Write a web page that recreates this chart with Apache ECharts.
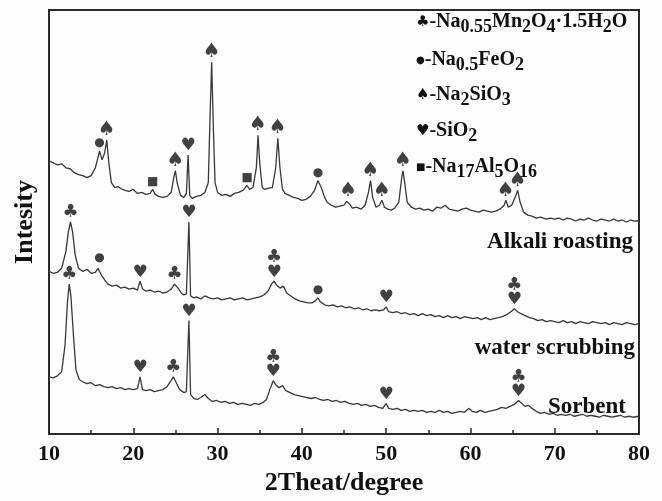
<!DOCTYPE html>
<html>
<head>
<meta charset="utf-8">
<script src="https://cdn.jsdelivr.net/npm/echarts@6/dist/echarts.min.js"></script>
<style>
html,body{margin:0;padding:0;background:#fdfdfd;}
#chart{width:662px;height:501px;}
</style>
</head>
<body>
<div id="chart"></div>
<script>
// 2θ (degree), intensity (a.u., stacked traces)
const alkaliRoasting = [[10.0,277],[10.5,275],[11.0,273],[11.5,274],[12.0,270],[12.5,269],[13.0,265],[13.5,263],[14.0,262],[14.5,260],[15.0,262],[15.5,270],[15.8,280],[16.0,287],[16.3,278],[16.6,285],[16.85,298],[17.1,275],[17.4,255],[17.8,250],[18.2,251],[18.5,249],[19.0,247],[19.5,246],[20.0,248],[20.5,244],[21.0,245],[21.5,243],[22.0,244],[22.3,248],[22.6,243],[23.0,241],[23.5,240],[24.0,241],[24.5,245],[24.8,260],[25.0,267],[25.2,255],[25.6,242],[26.0,240],[26.3,244],[26.5,283],[26.7,242],[27.0,239],[27.5,241],[28.0,242],[28.5,245],[28.9,255],[29.1,320],[29.3,377],[29.5,310],[29.7,255],[30.0,245],[30.5,242],[31.0,243],[31.5,241],[32.0,244],[32.5,245],[33.0,247],[33.5,252],[33.8,248],[34.2,250],[34.6,270],[34.8,303],[35.0,275],[35.3,250],[35.6,248],[36.0,249],[36.5,250],[36.9,270],[37.15,300],[37.4,270],[37.7,248],[38.0,244],[38.5,242],[39.0,240],[39.5,239],[40.0,237],[40.5,238],[41.0,241],[41.5,247],[41.9,257],[42.3,250],[42.7,240],[43.0,235],[43.5,232],[44.0,230],[44.5,231],[45.0,232],[45.3,236],[45.5,237],[45.7,233],[46.0,229],[46.5,230],[47.0,228],[47.5,232],[47.9,245],[48.15,257],[48.4,240],[48.8,230],[49.2,232],[49.5,237],[49.8,230],[50.2,228],[50.6,227],[51.0,229],[51.5,235],[51.85,260],[52.0,267],[52.2,255],[52.5,235],[53.0,230],[53.5,228],[54.0,229],[54.5,227],[55.0,228],[55.5,226],[56.0,230],[56.5,229],[57.0,232],[57.5,228],[58.0,227],[58.5,226],[59.0,228],[59.5,229],[60.0,227],[60.5,226],[61.0,225],[61.5,227],[62.0,226],[62.5,225],[63.0,226],[63.5,228],[64.0,232],[64.2,237],[64.5,230],[64.9,232],[65.3,240],[65.6,247],[65.9,235],[66.3,225],[66.8,222],[67.3,221],[67.8,219],[68.3,220],[69.0,218],[69.5,219],[70.0,218],[70.5,219],[71.0,217],[71.5,219],[72.0,218],[72.5,216],[73.0,218],[73.5,217],[74.0,219],[74.5,217],[75.0,216],[75.5,218],[76.0,217],[76.5,216],[77.0,218],[77.5,216],[78.0,217],[78.5,215],[79.0,217],[79.5,216],[80.0,216]];

const waterScrubbing = [[10.0,165],[10.5,163],[11.0,164],[11.5,168],[12.0,185],[12.3,205],[12.55,215],[12.8,205],[13.1,182],[13.5,168],[14.0,165],[14.5,167],[15.0,163],[15.5,164],[15.8,168],[16.0,170],[16.3,160],[16.7,155],[17.0,152],[17.5,150],[18.0,151],[18.5,148],[19.0,149],[19.5,147],[20.0,148],[20.5,146],[20.8,155],[21.1,147],[21.5,145],[22.0,146],[22.5,144],[23.0,145],[23.5,143],[24.0,144],[24.5,147],[24.9,152],[25.3,148],[25.7,143],[26.0,141],[26.3,142],[26.6,215],[26.8,140],[27.2,138],[27.5,139],[28.0,137],[28.5,140],[29.0,138],[29.5,137],[30.0,138],[30.5,136],[31.0,137],[31.5,138],[32.0,136],[32.5,137],[33.0,138],[33.5,136],[34.0,137],[34.5,138],[35.0,139],[35.5,141],[36.0,145],[36.4,152],[36.7,155],[37.0,151],[37.4,148],[37.8,150],[38.2,143],[38.7,140],[39.2,137],[39.7,135],[40.2,134],[40.7,133],[41.2,133],[41.6,135],[41.9,138],[42.2,134],[42.7,131],[43.2,130],[43.7,131],[44.2,129],[44.7,130],[45.2,128],[45.7,129],[46.2,127],[46.7,128],[47.2,126],[47.7,127],[48.2,125],[48.7,126],[49.2,125],[49.7,126],[50.0,129],[50.3,124],[50.8,123],[51.3,124],[51.8,122],[52.3,123],[52.8,121],[53.3,122],[53.8,120],[54.3,122],[54.8,120],[55.3,121],[55.8,119],[56.3,120],[56.8,118],[57.3,120],[57.8,118],[58.3,119],[58.8,117],[59.3,119],[59.8,118],[60.3,117],[60.8,118],[61.3,116],[61.8,118],[62.3,116],[62.8,117],[63.3,118],[63.8,119],[64.3,121],[64.8,124],[65.2,127],[65.6,124],[66.0,122],[66.5,120],[67.0,118],[67.5,117],[68.0,115],[68.5,116],[69.0,114],[69.5,115],[70.0,114],[70.5,113],[71.0,115],[71.5,113],[72.0,114],[72.5,112],[73.0,114],[73.5,113],[74.0,112],[74.5,114],[75.0,113],[75.5,112],[76.0,113],[76.5,111],[77.0,113],[77.5,112],[78.0,111],[78.5,113],[79.0,112],[79.5,111],[80.0,112]];

const sorbent = [[10.0,58],[10.5,57],[11.0,59],[11.5,63],[11.9,90],[12.2,135],[12.4,152],[12.6,140],[12.9,100],[13.2,65],[13.6,55],[14.0,53],[14.5,51],[15.0,52],[15.5,49],[16.0,50],[16.5,48],[17.0,47],[17.5,48],[18.0,46],[18.5,47],[19.0,45],[19.5,46],[20.0,45],[20.5,46],[20.8,58],[21.1,45],[21.5,44],[22.0,45],[22.5,43],[23.0,44],[23.5,45],[24.0,48],[24.4,53],[24.75,58],[25.1,52],[25.5,45],[26.0,42],[26.3,43],[26.6,115],[26.8,40],[27.2,36],[27.6,35],[28.0,37],[28.5,40],[28.9,36],[29.4,33],[29.9,34],[30.4,32],[30.9,33],[31.4,31],[31.9,32],[32.4,30],[32.9,31],[33.4,30],[33.9,29],[34.4,31],[34.9,30],[35.4,32],[35.8,35],[36.2,45],[36.6,54],[36.9,50],[37.3,47],[37.7,49],[38.1,44],[38.6,42],[39.1,40],[39.6,39],[40.1,38],[40.6,37],[41.1,36],[41.6,37],[42.1,35],[42.6,34],[43.1,35],[43.6,33],[44.1,34],[44.6,32],[45.1,33],[45.6,31],[46.1,30],[46.6,31],[47.1,29],[47.6,30],[48.1,28],[48.6,29],[49.1,27],[49.6,26],[50.0,31],[50.3,26],[50.8,25],[51.3,26],[51.8,24],[52.3,25],[52.8,23],[53.3,24],[53.8,23],[54.3,24],[54.8,22],[55.3,23],[55.8,22],[56.3,24],[56.8,22],[57.3,23],[57.8,21],[58.3,22],[58.8,23],[59.3,22],[59.8,26],[60.2,23],[60.7,22],[61.2,24],[61.7,22],[62.2,23],[62.7,24],[63.2,25],[63.7,27],[64.2,26],[64.7,28],[65.2,30],[65.7,34],[66.1,31],[66.5,28],[66.9,29],[67.3,26],[67.8,23],[68.3,21],[68.8,22],[69.3,20],[69.8,21],[70.3,19],[70.8,20],[71.3,19],[71.8,20],[72.3,18],[72.8,19],[73.3,20],[73.8,18],[74.3,19],[74.8,18],[75.3,17],[75.8,19],[76.3,18],[76.8,17],[77.3,18],[77.8,19],[78.3,17],[78.8,18],[79.3,17],[80.0,18]];

// phase marks: [2θ, peak intensity, phase code(s)]
// c = Na0.55Mn2O4·1.5H2O, d = Na0.5FeO2, s = Na2SiO3, h = SiO2, q = Na17Al5O16
const alkaliMarks = [[16.0,287,'d'],[16.85,298,'s'],[22.3,248,'q'],[25.0,267,'s'],[26.5,283,'h'],[29.3,377,'s'],[33.5,252,'q'],[34.8,303,'s'],[37.15,300,'s'],[41.9,257,'d'],[45.5,237,'s'],[48.15,257,'s'],[49.5,237,'s'],[52.0,267,'s'],[64.2,237,'s'],[65.6,247,'s']];
const waterMarks = [[12.55,215,'c'],[16.0,170,'d'],[20.8,155,'h'],[24.9,152,'c'],[26.6,215,'h'],[36.7,155,'ch'],[41.9,138,'d'],[50.0,129,'h'],[65.2,127,'ch']];
const sorbentMarks = [[12.4,152,'c'],[20.8,58,'h'],[24.75,58,'c'],[26.6,115,'h'],[36.6,54,'ch'],[50.0,31,'h'],[65.7,34,'ch']];

const xTicks = [10,20,30,40,50,60,70,80];
const traceNames = ['Alkali roasting','water scrubbing','Sorbent'];

const glyph = {c:'{c|♣}', d:'{d|●}', s:'{s|♠}', h:'{h|♥}', q:'{q|■}'};
const glyphRich = {
  c:{fontFamily:'DejaVu Sans',fontSize:18,color:'#111',lineHeight:15},
  d:{fontFamily:'DejaVu Sans',fontSize:12,color:'#111',lineHeight:12},
  s:{fontFamily:'DejaVu Sans',fontSize:20,color:'#111',lineHeight:16},
  h:{fontFamily:'DejaVu Sans',fontSize:17,color:'#111',lineHeight:14},
  q:{fontFamily:'DejaVu Sans',fontSize:12,color:'#111',lineHeight:12}
};

function markSeries(marks){
  return {
    type:'scatter', symbolSize:0, silent:true, z:5,
    data: marks.map(m=>({value:[m[0],m[1]], codes:m[2]})),
    label:{show:true, position:'top', distance:2,
      formatter:p=>p.data.codes.split('').map(k=>glyph[k]).join('\n'),
      rich:glyphRich}
  };
}
function traceSeries(name,data){
  return {name, type:'line', data, showSymbol:false, symbol:'none',
    lineStyle:{color:'#383838', width:1.3}, z:3};
}

const serif = 'Liberation Serif, Times New Roman, serif';
const tS = {fontFamily:serif,fontWeight:'bold',fontSize:20,color:'#111',padding:[0,0,0,0]};
const sS = {fontFamily:serif,fontWeight:'bold',fontSize:18,color:'#111',padding:[11,0,0,0]};
const legendRich = {g:{fontFamily:'DejaVu Sans',fontSize:15,color:'#111'},
  gd:{fontFamily:'DejaVu Sans',fontSize:10,color:'#111'}, t:tS, s:sS};
const legendItems = [
  '{g|♣}{t|-Na}{s|0.55}{t|Mn}{s|2}{t|O}{s|4}{t|·1.5H}{s|2}{t|O}',
  '{gd|●}{t|-Na}{s|0.5}{t|FeO}{s|2}',
  '{g|♠}{t|-Na}{s|2}{t|SiO}{s|3}',
  '{g|♥}{t|-SiO}{s|2}',
  '{gd|■}{t|-Na}{s|17}{t|Al}{s|5}{t|O}{s|16}'
];
const legendY = [24, 62, 97, 133, 169];

const chart = echarts.init(document.getElementById('chart'));
chart.setOption({
  backgroundColor:'#fdfdfd',
  animation:false,
  grid:{left:49,right:23,top:10,bottom:61,show:true,borderColor:'#2a2a2a',borderWidth:2,backgroundColor:'transparent'},
  xAxis:{type:'value',min:10,max:80,interval:10,
    name:'2Theat/degree',nameLocation:'middle',nameGap:36,
    nameTextStyle:{fontFamily:serif,fontWeight:'bold',fontSize:26,color:'#111'},
    axisLine:{show:true,lineStyle:{color:'#2a2a2a',width:2}},
    axisTick:{show:true,inside:true,length:6,lineStyle:{color:'#2a2a2a',width:1.5}},
    minorTick:{show:true,splitNumber:2,length:4,lineStyle:{color:'#2a2a2a',width:1.5}},
    splitLine:{show:false},
    axisLabel:{margin:9,fontFamily:serif,fontWeight:'bold',fontSize:22,color:'#111',
      formatter:v=>xTicks.includes(v)?String(v):''}},
  yAxis:{type:'value',min:0,max:430,
    name:'Intesity',nameLocation:'middle',nameGap:11,nameRotate:90,
    nameTextStyle:{fontFamily:serif,fontWeight:'bold',fontSize:26,color:'#111'},
    axisLine:{show:true,lineStyle:{color:'#2a2a2a',width:2}},
    axisTick:{show:false},axisLabel:{show:false},splitLine:{show:false}},
  series:[
    traceSeries(traceNames[0],alkaliRoasting),
    traceSeries(traceNames[1],waterScrubbing),
    traceSeries(traceNames[2],sorbent),
    markSeries(alkaliMarks),markSeries(waterMarks),markSeries(sorbentMarks)
  ],
  graphic:[
    ...legendItems.map((txt,i)=>({type:'text',left:416,top:legendY[i]-12,z:10,
      style:{text:txt,rich:legendRich,fill:'#111'}})),
    {type:'text',right:29,top:231,style:{text:traceNames[0],fontFamily:serif,fontWeight:'bold',fontSize:23,fill:'#111'}},
    {type:'text',right:27,top:337,style:{text:traceNames[1],fontFamily:serif,fontWeight:'bold',fontSize:23,fill:'#111'}},
    {type:'text',right:36,top:396,style:{text:traceNames[2],fontFamily:serif,fontWeight:'bold',fontSize:23,fill:'#111'}}
  ]
});
</script>
</body>
</html>
